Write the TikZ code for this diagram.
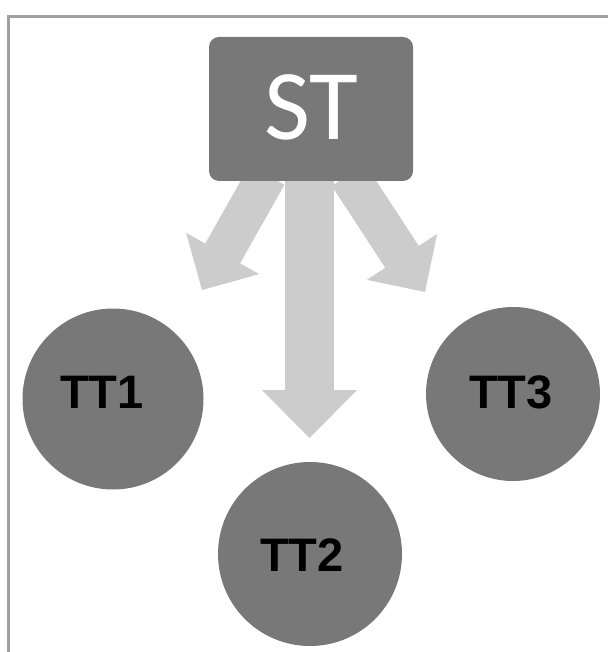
\documentclass[tikz,border=0pt]{standalone}
\usepackage{fontspec}
\usetikzlibrary{arrows.meta}
\newfontfamily\stfont{Carlito}
\newfontfamily\circfont{Liberation Sans}
\definecolor{boxgray}{RGB}{120,120,120}
\definecolor{arrowgray}{RGB}{204,204,204}
\definecolor{framegray}{RGB}{160,160,160}
\tikzset{
  stbox/.style={draw=none, fill=boxgray, rounded corners=10pt, minimum width=204pt, minimum height=144pt, inner sep=0pt,
    font=\stfont\fontsize{100pt}{100pt}\selectfont, text=white},
  ttcircle/.style={circle, draw=none, fill=boxgray, inner sep=0pt},
  tttext/.style={font=\circfont\bfseries\fontsize{47pt}{47pt}\selectfont, text=black, inner sep=0pt},
  blockarrow/.style={draw=arrowgray, line width=#1, line cap=butt},
  frameline/.style={draw=framegray, line width=3pt}
}
\begin{document}
\begin{tikzpicture}[x=1pt, y=-1pt]
\useasboundingbox (0,0) rectangle (608,652);
\fill[white] (0,0) rectangle (608,652);
% frame (top and left edges visible)
\coordinate (fTL) at (8.5,17);
\coordinate (fTR) at (608,17);
\coordinate (fBL) at (8.5,652);
\draw[frameline] (fBL) -- (fTL) -- (fTR);
% arrow coordinates
\coordinate (sL) at (267,175);
\coordinate (tipL) at (202,290);
\coordinate (sM) at (309.5,175);
\coordinate (tipM) at (309.5,438);
\coordinate (sR) at (348.5,175);
\coordinate (tipR) at (425,292);
% arrows
\draw[blockarrow=40pt, -{Triangle[width=84pt,length=42pt,line width=0pt]}] (sL) -- (tipL);
\draw[blockarrow=40pt, -{Triangle[width=84pt,length=42pt,line width=0pt]}] (sR) -- (tipR);
\draw[blockarrow=49pt, -{Triangle[width=95pt,length=48pt,line width=0pt]}] (sM) -- (tipM);
% source box
\node[stbox] (st) at (311,109) {\raisebox{4pt}{ST}};
% targets
\node[ttcircle, minimum size=181pt, label={[tttext, xshift=-11pt, yshift=7pt]center:TT1}] (tt1) at (113,399) {};
\node[ttcircle, minimum size=184pt, label={[tttext, xshift=-8pt, yshift=-1pt]center:TT2}] (tt2) at (310,554) {};
\node[ttcircle, minimum size=174pt, label={[tttext, xshift=-2pt, yshift=2pt]center:TT3}] (tt3) at (513,394) {};
\end{tikzpicture}
\end{document}
